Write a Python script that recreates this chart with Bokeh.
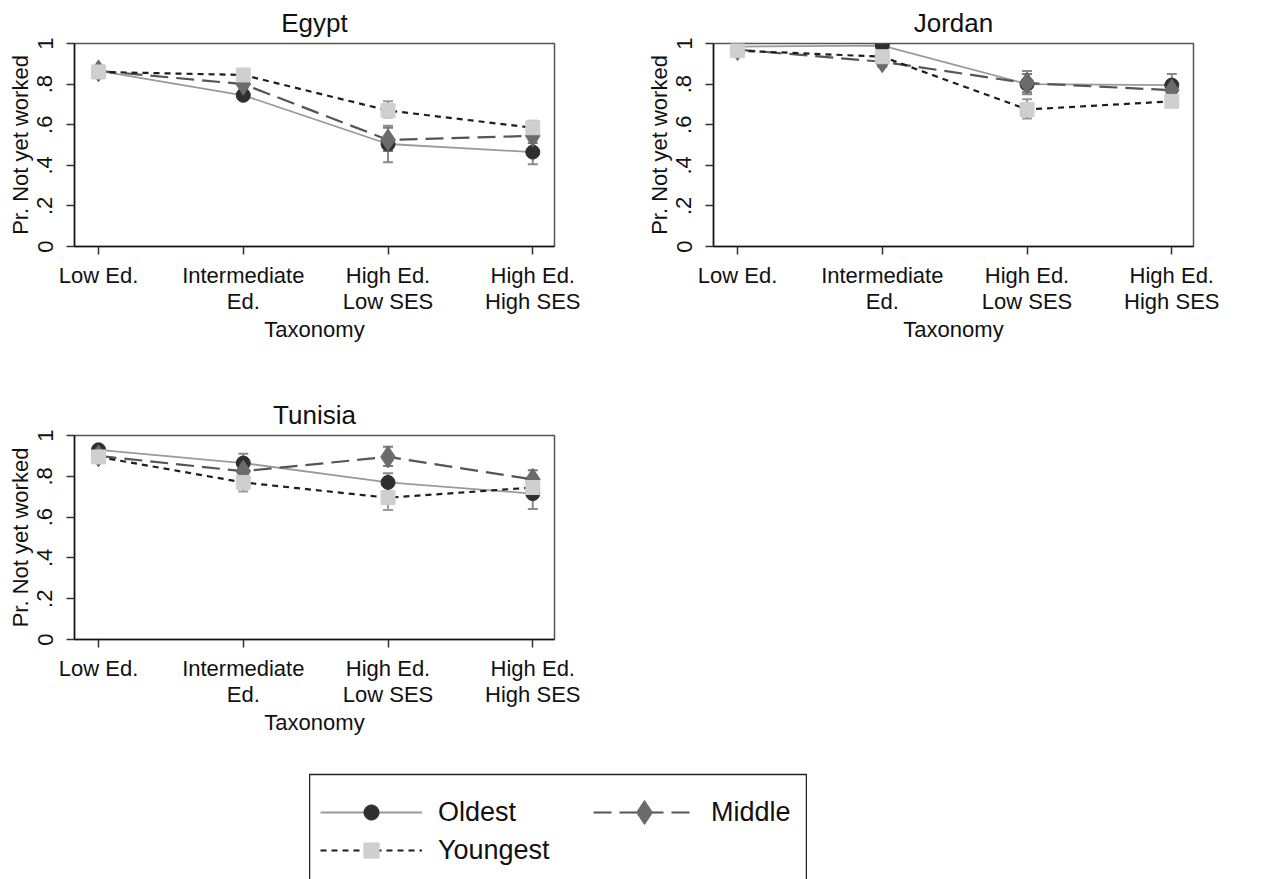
import numpy as np
from bokeh.plotting import figure
from bokeh.models import (ColumnDataSource, Range1d, FixedTicker, Whisker, TeeHead,
                          Legend, LegendItem, Spacer)
from bokeh.layouts import column, row
from bokeh.embed import file_html
from bokeh.resources import INLINE

# ---------------- data ----------------
categories = ["Low Ed.", "Intermediate\nEd.", "High Ed.\nLow SES", "High Ed.\nHigh SES"]
series_names = ["Oldest", "Middle", "Youngest"]
y_ticks = [0, 0.2, 0.4, 0.6, 0.8, 1.0]
y_tick_labels = ["0", ".2", ".4", ".6", ".8", "1"]

egypt_oldest = [0.865, 0.745, 0.505, 0.465]
egypt_oldest_lo = [0.850, 0.725, 0.415, 0.405]
egypt_oldest_hi = [0.880, 0.765, 0.595, 0.525]
egypt_middle = [0.865, 0.800, 0.525, 0.545]
egypt_middle_lo = [0.845, 0.775, 0.470, 0.510]
egypt_middle_hi = [0.885, 0.825, 0.585, 0.580]
egypt_youngest = [0.860, 0.845, 0.670, 0.585]
egypt_youngest_lo = [0.840, 0.820, 0.635, 0.550]
egypt_youngest_hi = [0.880, 0.870, 0.715, 0.620]

jordan_oldest = [0.985, 0.990, 0.800, 0.795]
jordan_oldest_lo = [0.975, 0.980, 0.750, 0.745]
jordan_oldest_hi = [0.995, 1.000, 0.865, 0.850]
jordan_middle = [0.970, 0.910, 0.805, 0.770]
jordan_middle_lo = [0.955, 0.885, 0.760, 0.735]
jordan_middle_hi = [0.985, 0.935, 0.850, 0.805]
jordan_youngest = [0.965, 0.935, 0.675, 0.715]
jordan_youngest_lo = [0.950, 0.910, 0.630, 0.690]
jordan_youngest_hi = [0.980, 0.960, 0.725, 0.740]

tunisia_oldest = [0.930, 0.865, 0.770, 0.715]
tunisia_oldest_lo = [0.915, 0.825, 0.725, 0.640]
tunisia_oldest_hi = [0.945, 0.910, 0.815, 0.790]
tunisia_middle = [0.900, 0.825, 0.895, 0.785]
tunisia_middle_lo = [0.880, 0.785, 0.850, 0.745]
tunisia_middle_hi = [0.920, 0.865, 0.945, 0.830]
tunisia_youngest = [0.895, 0.770, 0.695, 0.745]
tunisia_youngest_lo = [0.875, 0.725, 0.635, 0.705]
tunisia_youngest_hi = [0.915, 0.815, 0.755, 0.785]

# ---------------- styles ----------------
FONT = "Liberation Sans"
STYLE = {
    "Oldest": dict(line_color="#9a9a9a", line_width=1.8, line_dash="solid",
                   marker="circle", size=14, color="#2f2f2f", ci="#8a8a8a"),
    "Middle": dict(line_color="#555555", line_width=2.2, line_dash="18 8",
                   marker="diamond", size=22, color="#6b6b6b", ci="#7a7a7a"),
    "Youngest": dict(line_color="#1e1e1e", line_width=2.2, line_dash="6 5",
                     marker="square", size=14, color="#cfcfcf", ci="#9a9a9a"),
}

xs = list(range(1, len(categories) + 1))


def make_panel(title, series, width, height, bl, br, bt, bb):
    p = figure(width=width, height=height, title=title,
               x_range=Range1d(0.834, 4.15), y_range=Range1d(0, 1),
               output_backend="svg", toolbar_location=None,
               min_border_left=bl, min_border_right=br,
               min_border_top=bt, min_border_bottom=bb)
    p.title.text_font = FONT
    p.title.text_font_size = "26px"
    p.title.text_font_style = "normal"
    p.title.align = "center"
    p.title.text_color = "#111111"
    p.title.standoff = 11
    p.xgrid.visible = False
    p.ygrid.visible = False
    p.outline_line_color = "#555555"
    p.outline_line_width = 1.5
    p.background_fill_color = "white"
    p.border_fill_color = "white"

    for ax in (p.xaxis[0], p.yaxis[0]):
        ax.axis_line_color = "#111111"
        ax.axis_line_width = 1.5
        ax.major_tick_line_color = "#333333"
        ax.major_tick_line_width = 1.5
        ax.major_tick_out = 8
        ax.major_tick_in = 0
        ax.minor_tick_line_color = None
        ax.major_label_text_font = FONT
        ax.major_label_text_font_size = "22px"
        ax.major_label_text_color = "#111111"
        ax.axis_label_text_font = FONT
        ax.axis_label_text_font_size = "22px"
        ax.axis_label_text_font_style = "normal"
        ax.axis_label_text_color = "#111111"

    p.xaxis.ticker = FixedTicker(ticks=xs)
    p.xaxis.major_label_overrides = {x: c for x, c in zip(xs, categories)}
    p.xaxis.major_label_text_line_height = 1.05
    p.xaxis.axis_label = "Taxonomy"
    p.xaxis.axis_label_standoff = 0
    p.xaxis.major_label_standoff = 8

    p.yaxis.ticker = FixedTicker(ticks=y_ticks)
    p.yaxis.major_label_overrides = {t: l for t, l in zip(y_ticks, y_tick_labels)}
    p.yaxis.major_label_orientation = "vertical"
    p.yaxis.axis_label = "Pr. Not yet worked"
    p.yaxis.axis_label_standoff = 2
    p.yaxis.major_label_standoff = 14

    srcs = {}
    for name, (vals, lo, hi) in zip(series_names, series):
        st = STYLE[name]
        src = ColumnDataSource(dict(x=xs, y=vals, lo=lo, hi=hi))
        srcs[name] = src
        w = Whisker(source=src, base="x", upper="hi", lower="lo",
                    line_color=st["ci"], line_width=2,
                    upper_head=TeeHead(size=10, line_color=st["ci"], line_width=2),
                    lower_head=TeeHead(size=10, line_color=st["ci"], line_width=2))
        p.add_layout(w)
    for name in series_names:
        st = STYLE[name]
        p.line("x", "y", source=srcs[name], line_color=st["line_color"],
               line_width=st["line_width"], line_dash=st["line_dash"])
    for name in series_names:
        st = STYLE[name]
        p.scatter("x", "y", source=srcs[name], marker=st["marker"], size=st["size"],
                  fill_color=st["color"], line_color=st["color"])
    return p


egypt = make_panel("Egypt", [
    (egypt_oldest, egypt_oldest_lo, egypt_oldest_hi),
    (egypt_middle, egypt_middle_lo, egypt_middle_hi),
    (egypt_youngest, egypt_youngest_lo, egypt_youngest_hi)],
    640, 392, 74, 86, 43, 146)
jordan = make_panel("Jordan", [
    (jordan_oldest, jordan_oldest_lo, jordan_oldest_hi),
    (jordan_middle, jordan_middle_lo, jordan_middle_hi),
    (jordan_youngest, jordan_youngest_lo, jordan_youngest_hi)],
    630, 392, 73, 77, 43, 146)
tunisia = make_panel("Tunisia", [
    (tunisia_oldest, tunisia_oldest_lo, tunisia_oldest_hi),
    (tunisia_middle, tunisia_middle_lo, tunisia_middle_hi),
    (tunisia_youngest, tunisia_youngest_lo, tunisia_youngest_hi)],
    640, 368, 74, 86, 43, 121)

# ---------------- legend ----------------
leg = figure(width=498, height=122, x_range=Range1d(0, 1), y_range=Range1d(0, 1),
             x_axis_type=None, y_axis_type=None,
             min_border_left=0, min_border_right=0, min_border_top=14, min_border_bottom=0,
             toolbar_location=None, output_backend="svg")
leg.outline_line_color = "#222222"
leg.outline_line_width = 1.5
leg.xgrid.visible = False
leg.ygrid.visible = False
renderers = {}
for name in series_names:
    st = STYLE[name]
    empty = ColumnDataSource(dict(x=np.array([np.nan]), y=np.array([np.nan])))
    lr = leg.line("x", "y", source=empty, line_color=st["line_color"],
                  line_width=st["line_width"], line_dash=st["line_dash"])
    sr = leg.scatter("x", "y", source=empty, marker=st["marker"], size=st["size"],
                     fill_color=st["color"], line_color=st["color"])
    renderers[name] = [lr, sr]

common = dict(glyph_width=102, label_height=38, label_standoff=16,
              label_text_font=FONT, label_text_font_size="27px",
              label_text_color="#111111", padding=0, spacing=0, margin=0,
              border_line_color=None, background_fill_alpha=0.0)
legend_a = Legend(items=[LegendItem(label=n, renderers=renderers[n]) for n in ["Oldest", "Youngest"]],
                  location=(11, 13), orientation="vertical", glyph_height=38, **common)
legend_b = Legend(items=[LegendItem(label="Middle", renderers=renderers["Middle"])],
                  location=(284, 40), orientation="vertical", glyph_height=60, **common)
leg.add_layout(legend_a)
leg.add_layout(legend_b)

layout = column(row(egypt, jordan), tunisia, row(Spacer(width=309, height=122), leg))
open("out.html", "w").write(file_html(layout, INLINE))
